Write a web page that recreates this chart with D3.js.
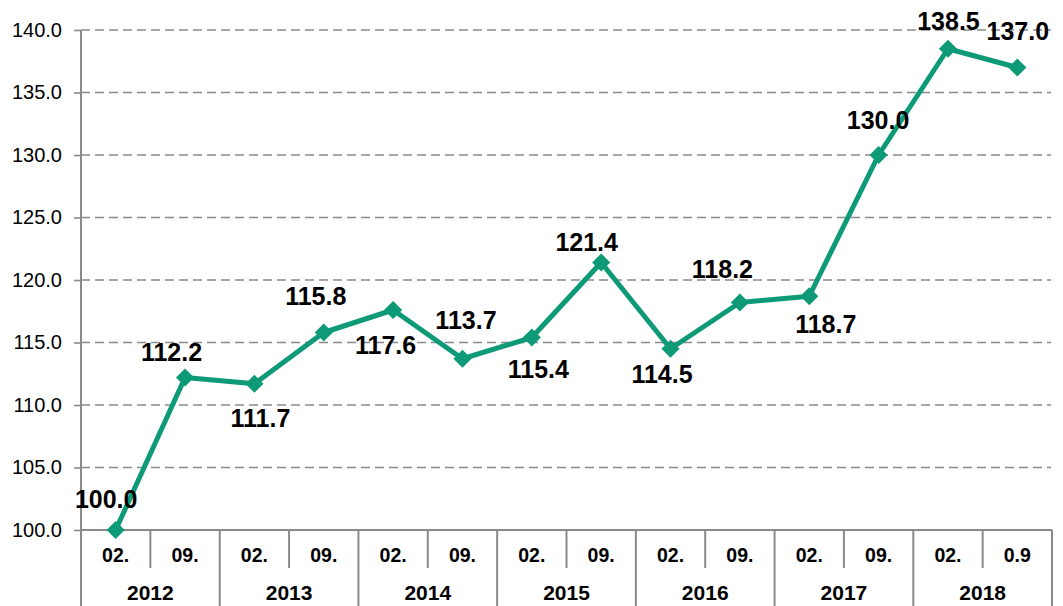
<!DOCTYPE html>
<html>
<head>
<meta charset="utf-8">
<script src="https://cdn.jsdelivr.net/npm/d3@7"></script>
<style>
  body { margin: 0; background: #fff; }
  svg { font-family: Arial, "Liberation Sans", sans-serif; }
</style>
</head>
<body>
<div id="chart"></div>
<script>
// data
var months = ["02.", "09.", "02.", "09.", "02.", "09.", "02.", "09.", "02.", "09.", "02.", "09.", "02.", "0.9"];
var years = ["2012", "2013", "2014", "2015", "2016", "2017", "2018"];
var values = [100.0, 112.2, 111.7, 115.8, 117.6, 113.7, 115.4, 121.4, 114.5, 118.2, 118.7, 130.0, 138.5, 137.0];
var yTicks = [100, 105, 110, 115, 120, 125, 130, 135, 140];

// label placement relative to point (dx, dy of text centre)
var labelOffset = [[-9.5, -31.5], [-13.5, -25.5], [6, 34], [-8, -36.5], [-7.5, 35], [3.5, -39], [6.5, 31.5],
                   [-14.5, -20.5], [-8.5, 25], [-17.5, -33.5], [16.5, 28], [-0.5, -35.5], [0.5, -27.5], [0.5, -36.5]];

var width = 1063, height = 606;
var margin = {top: 30, right: 11, bottom: 76, left: 81};
var plotW = width - margin.left - margin.right,
    plotH = height - margin.top - margin.bottom;

var svg = d3.select("#chart")
  .append("svg")
    .attr("width", width)
    .attr("height", height);

var g = svg.append("g")
    .attr("transform", "translate(" + margin.left + "," + margin.top + ")");

var x = d3.scaleBand()
  .domain(d3.range(values.length))
  .range([0, plotW]);

var y = d3.scaleLinear()
  .domain([100, 140])
  .range([plotH, 0]);

// gridlines
g.selectAll(".grid")
  .data(yTicks.filter(function(d) { return d > 100; }))
  .enter()
  .append("line")
    .attr("x1", 0)
    .attr("x2", plotW - 1)
    .attr("y1", function(d) { return y(d); })
    .attr("y2", function(d) { return y(d); })
    .attr("stroke", "#8a8a8a")
    .attr("stroke-width", 1.6)
    .attr("stroke-dasharray", "9,5");

// Y axis
var yAxis = g.append("g")
  .call(d3.axisLeft(y).tickValues(yTicks).tickSize(7).tickPadding(12)
    .tickFormat(d3.format(".1f")));
yAxis.select(".domain").remove();
yAxis.selectAll(".tick line").attr("stroke", "#8a8a8a").attr("stroke-width", 1.6);
yAxis.selectAll("text")
  .style("font-size", "20px")
  .attr("fill", "#000");

// left axis line (goes down through the category area)
g.append("line")
  .attr("x1", 0).attr("x2", 0)
  .attr("y1", 0).attr("y2", height - margin.top)
  .attr("stroke", "#8a8a8a")
  .attr("stroke-width", 2);

// category axis
var cat = g.append("g").attr("transform", "translate(0," + plotH + ")");
cat.append("line")
  .attr("x1", 0).attr("x2", plotW)
  .attr("stroke", "#8a8a8a").attr("stroke-width", 2);

cat.selectAll(".sep")
  .data(d3.range(1, values.length + 1))
  .enter()
  .append("line")
    .attr("x1", function(i) { return i * x.bandwidth(); })
    .attr("x2", function(i) { return i * x.bandwidth(); })
    .attr("y1", 0)
    .attr("y2", function(i) { return i % 2 === 0 ? margin.bottom : 38; })
    .attr("stroke", "#8a8a8a")
    .attr("stroke-width", 2);

cat.selectAll(".month")
  .data(months)
  .enter()
  .append("text")
    .attr("x", function(d, i) { return x(i) + x.bandwidth() / 2; })
    .attr("y", 32)
    .attr("text-anchor", "middle")
    .style("font-size", "19.5px")
    .style("font-weight", "bold")
    .text(function(d) { return d; });

cat.selectAll(".year")
  .data(years)
  .enter()
  .append("text")
    .attr("x", function(d, i) { return x(i * 2) + x.bandwidth(); })
    .attr("y", 70)
    .attr("text-anchor", "middle")
    .style("font-size", "21px")
    .style("font-weight", "bold")
    .text(function(d) { return d; });

// line
var line = d3.line()
  .x(function(d, i) { return x(i) + x.bandwidth() / 2; })
  .y(function(d) { return y(d); });

g.append("path")
  .datum(values)
  .attr("fill", "none")
  .attr("stroke", "#0e9a77")
  .attr("stroke-width", 5)
  .attr("stroke-linejoin", "round")
  .attr("d", line);

// markers
g.selectAll(".marker")
  .data(values)
  .enter()
  .append("path")
    .attr("d", d3.symbol().type(d3.symbolDiamond2).size(210))
    .attr("transform", function(d, i) {
      return "translate(" + (x(i) + x.bandwidth() / 2) + "," + y(d) + ")";
    })
    .attr("fill", "#0e9a77");

// data labels
g.selectAll(".label")
  .data(values)
  .enter()
  .append("text")
    .attr("x", function(d, i) { return x(i) + x.bandwidth() / 2 + labelOffset[i][0]; })
    .attr("y", function(d, i) { return y(d) + labelOffset[i][1]; })
    .attr("dy", "0.36em")
    .attr("text-anchor", "middle")
    .style("font-size", "25px")
    .style("font-weight", "bold")
    .text(function(d) { return d.toFixed(1); });
</script>
</body>
</html>
